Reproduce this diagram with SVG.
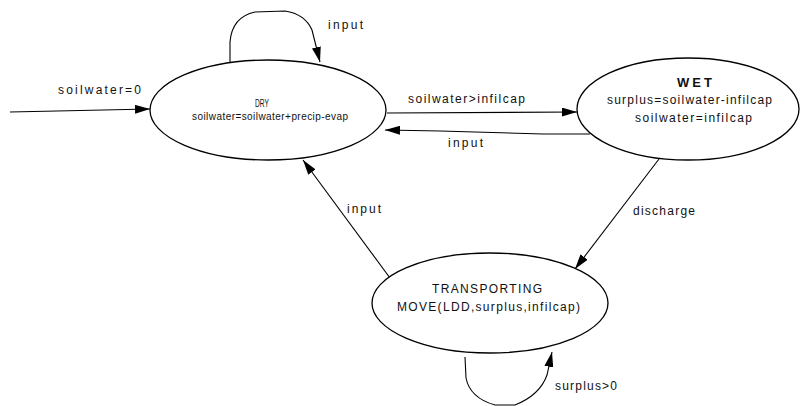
<svg xmlns="http://www.w3.org/2000/svg" width="801" height="406" viewBox="0 0 801 406">
<defs>
<marker id="ah" viewBox="0 0 15 9" refX="15" refY="4.5" markerWidth="15" markerHeight="9" markerUnits="userSpaceOnUse" orient="auto">
<path d="M0,0 L15,4.5 L0,9 Z" fill="#000"/>
</marker>
<style>
.n{fill:#fff;stroke:#000;stroke-width:1.3}
.e{fill:none;stroke:#000;stroke-width:1.1;marker-end:url(#ah)}
text{font-family:"Liberation Sans",Arial,sans-serif;fill:#111;font-size:12px}
.s{font-size:10px}
.d{font-size:11px}
.b{font-weight:bold;font-size:13px}
</style>
</defs>
<rect width="801" height="406" fill="#fff"/>
<g id="connectors">
<path class="e" d="M10,112 L150,109"/>
<path class="e" d="M230,62 L230,42 Q232,17 255,12 L285,11 Q305,14 312,30 L320,62"/>
<path class="e" d="M387,113 L577,112"/>
<path class="e" d="M590,134 L543,134 L440,131 L385,130"/>
<path class="e" d="M659,159 L575,269"/>
<path class="e" d="M390,278 L303,160"/>
<path class="e" d="M465,357 L466,378 Q470,398 495,405 L515,405 Q540,395 547,375 L552,352"/>
<text x="58" y="94" textLength="83" lengthAdjust="spacing">soilwater=0</text>
<text x="328" y="29" textLength="35" lengthAdjust="spacing">input</text>
<text x="408" y="103" textLength="117" lengthAdjust="spacing">soilwater&gt;infilcap</text>
<text x="448" y="147" textLength="35" lengthAdjust="spacing">input</text>
<text x="633" y="215" textLength="62" lengthAdjust="spacing">discharge</text>
<text x="347" y="213" textLength="34" lengthAdjust="spacing">input</text>
<text x="555" y="390" textLength="62" lengthAdjust="spacing">surplus&gt;0</text>
</g>
<g id="dry">
<ellipse class="n" cx="268" cy="110" rx="118" ry="50"/>
<text x="255" y="107" class="d" textLength="14" lengthAdjust="spacingAndGlyphs">DRY</text>
<text x="192" y="120" class="s" textLength="156" lengthAdjust="spacing">soilwater=soilwater+precip-evap</text>
</g>
<g id="wet">
<ellipse class="n" cx="688" cy="109" rx="111" ry="51"/>
<text x="677" y="87" class="b" textLength="35" lengthAdjust="spacing">WET</text>
<text x="607" y="104" textLength="165" lengthAdjust="spacing">surplus=soilwater-infilcap</text>
<text x="635" y="122" textLength="117" lengthAdjust="spacing">soilwater=infilcap</text>
</g>
<g id="transporting">
<ellipse class="n" cx="490" cy="303" rx="118" ry="50"/>
<text x="432" y="293" textLength="110" lengthAdjust="spacing">TRANSPORTING</text>
<text x="397" y="311" textLength="183" lengthAdjust="spacing">MOVE(LDD,surplus,infilcap)</text>
</g>
</svg>
